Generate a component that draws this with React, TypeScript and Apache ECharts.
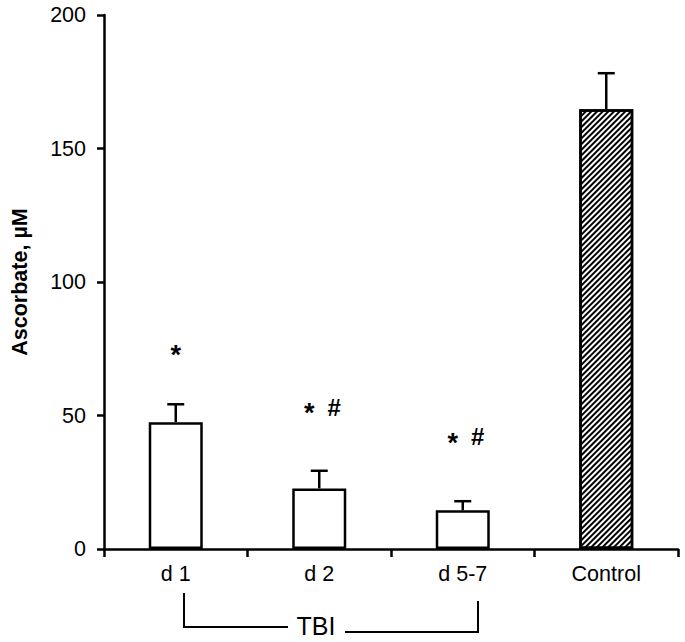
import React, { useEffect, useRef } from "react";
import * as echarts from "echarts";

const categories = ["d 1", "d 2", "d 5-7", "Control"];
const means = [47.5, 22.7, 14.5, 164.7];
const upperErrors = [54.2, 29.3, 17.9, 178.2];
const annotations = ["*", "* #", "* #", ""];
const annotationLevels = [75, 53, 42, 0];
const yMin = 0;
const yMax = 200;
const yInterval = 50;
const yName = "Ascorbate, \u00b5M";
const groupLabel = "TBI";

const FONT = "'Liberation Sans', Arial, Helvetica, sans-serif";

export default function App() {
  const ref = useRef<HTMLDivElement>(null);
  useEffect(() => {
    if (!ref.current) return;
    const chart = echarts.init(ref.current, undefined, { renderer: "svg" });
    const barData = means.map((v, i) =>
      i === 3
        ? {
            value: v,
            itemStyle: {
              color: "#fff",
              decal: {
                symbol: "rect",
                symbolSize: 1,
                color: "#000",
                backgroundColor: "#fff",
                dashArrayX: [1, 0],
                dashArrayY: [1.3, 1.5],
                rotation: -Math.PI / 4,
              },
            },
          }
        : v
    );
    const option: any = {
      animation: false,
      backgroundColor: "#fff",
      grid: { left: 104, right: 7, top: 15, bottom: 93, containLabel: false },
      xAxis: {
        type: "category",
        data: categories,
        boundaryGap: true,
        axisLine: { lineStyle: { color: "#000", width: 2.5 } },
        axisTick: { show: true, length: 8, lineStyle: { color: "#000", width: 2.5 } },
        axisLabel: { color: "#000", fontSize: 21.5, fontFamily: FONT, margin: 14 },
      },
      yAxis: {
        type: "value",
        min: yMin,
        max: yMax,
        interval: yInterval,
        name: yName,
        nameLocation: "middle",
        nameGap: 73,
        nameTextStyle: { color: "#000", fontSize: 21.5, fontWeight: "bold", fontFamily: FONT },
        splitLine: { show: false },
        axisLine: { show: true, lineStyle: { color: "#000", width: 2.5 } },
        axisTick: { show: true, length: 7, lineStyle: { color: "#000", width: 2.5 } },
        axisLabel: { color: "#000", fontSize: 21.5, fontFamily: FONT, margin: 18 },
      },
      series: [
        {
          type: "bar",
          data: barData,
          barWidth: 54,
          itemStyle: { color: "#fff", borderColor: "#000", borderWidth: 2.5 },
          z: 2,
        },
        {
          type: "custom",
          z: 3,
          data: categories.map((c, i) => [i, upperErrors[i], means[i]]),
          encode: { x: 0, y: 1 },
          renderItem: (params: any, api: any) => {
            const x = api.value(0);
            const top = api.coord([x, api.value(1)]);
            const base = api.coord([x, api.value(2)]);
            const style = { stroke: "#000", lineWidth: 2.5, fill: "none" };
            return {
              type: "group",
              children: [
                { type: "line", shape: { x1: base[0], y1: base[1], x2: top[0], y2: top[1] }, style },
                { type: "line", shape: { x1: top[0] - 8.5, y1: top[1], x2: top[0] + 8.5, y2: top[1] }, style },
              ],
            };
          },
        },
        {
          type: "custom",
          z: 4,
          data: categories.map((c, i) => [i, annotationLevels[i], annotations[i]]),
          encode: { x: 0, y: 1 },
          renderItem: (params: any, api: any) => {
            const idx = params.dataIndex;
            const txt = annotations[idx];
            if (!txt) return { type: "group", children: [] };
            const p = api.coord([api.value(0), api.value(1)]);
            const starStyle = { fill: "#000", fontSize: 27, fontWeight: "bold", fontFamily: FONT, align: "center", verticalAlign: "middle" };
            const hashStyle = { fill: "#000", fontSize: 24, fontWeight: "bold", fontFamily: FONT, align: "center", verticalAlign: "middle" };
            const children: any[] = [];
            if (txt.includes("#")) {
              children.push({ type: "text", x: p[0] - 10, y: p[1] + 6, style: { ...starStyle, text: "*" } });
              children.push({ type: "text", x: p[0] + 15, y: p[1], style: { ...hashStyle, text: "#" } });
            } else {
              children.push({ type: "text", x: p[0], y: p[1] + 6, style: { ...starStyle, text: "*" } });
            }
            return { type: "group", children };
          },
        },
      ],
      graphic: [
        { type: "polyline", shape: { points: [[184, 593], [184, 627], [288, 627]] }, style: { stroke: "#000", lineWidth: 2, fill: "none" } },
        { type: "polyline", shape: { points: [[345, 632], [478, 632], [478, 601]] }, style: { stroke: "#000", lineWidth: 2, fill: "none" } },
        {
          type: "text",
          x: 316,
          y: 626,
          style: { text: groupLabel, fill: "#000", fontSize: 25, fontFamily: FONT, align: "center", verticalAlign: "middle" },
        },
      ],
    };
    chart.setOption(option);
    return () => chart.dispose();
  }, []);
  return (
    <div
      ref={ref}
      style={{ position: "fixed", left: 0, top: 0, width: 685, height: 642, background: "#fff" }}
    />
  );
}
